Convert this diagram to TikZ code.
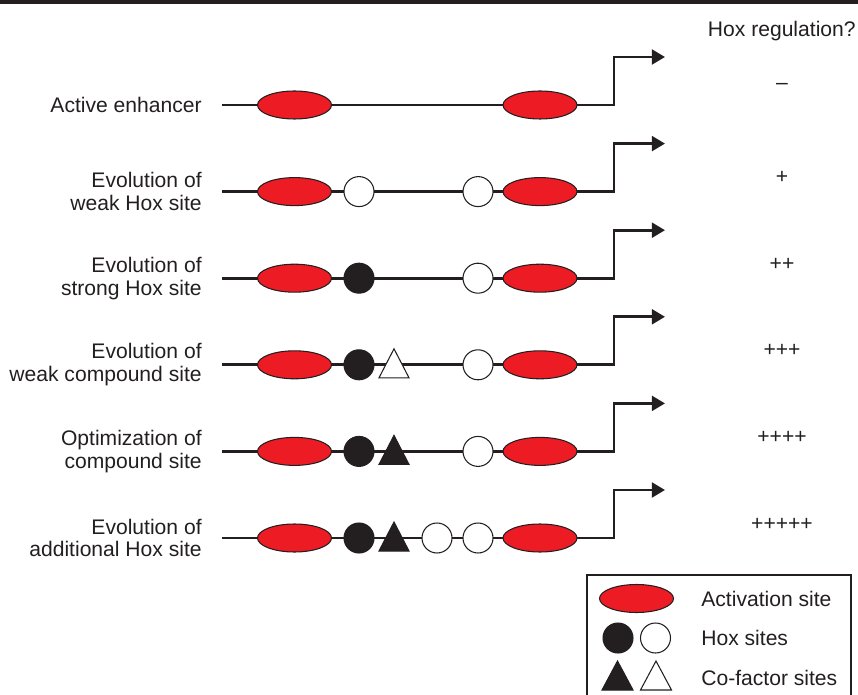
\documentclass[tikz,border=0pt]{standalone}
\usepackage{fontspec}
\setmainfont{Liberation Sans}
\usetikzlibrary{shapes.geometric,arrows.meta}
\definecolor{actred}{RGB}{237,28,36}
\definecolor{ink}{RGB}{35,31,32}

\begin{document}
\begin{tikzpicture}[x=0.02cm, y=-0.02cm, font=\fontsize{12}{13}\selectfont,
  act/.style={ellipse,draw=ink,line width=0.6pt,fill=actred,minimum width=1.48cm,minimum height=0.56cm,inner sep=0pt},
  hox/.style={circle,draw=ink,line width=0.6pt,fill=white,minimum size=0.6cm,inner sep=0pt},
  hoxon/.style={hox,fill=ink},
  cofac/.style={draw=ink,line width=0.6pt,fill=white},
  cofacon/.style={cofac,fill=ink},
  dna/.style={draw=ink,line width=1.5pt},
  stage/.style={align=right,anchor=east,text=ink,inner sep=0pt},
  reg/.style={text=ink,inner sep=0pt}]
  \useasboundingbox (0,0) rectangle (858,695);
  \draw[ink,line width=2.5pt] (0,2) -- (858,2);
  \node[reg,anchor=east] (hdr) at (856,31) {Hox regulation?};

  % enhancer rows
  \foreach \r/\y/\my/\lab/\val in {0/105/86/{Active enhancer}/{--},
      1/191.6/177/{Evolution of\\weak Hox site}/{+},
      2/278.2/264/{Evolution of\\strong Hox site}/{++},
      3/364.8/350/{Evolution of\\weak compound site}/{+++},
      4/451.4/437/{Optimization of\\compound site}/{++++},
      5/538/524/{Evolution of\\additional Hox site}/{+++++}}{
    \node[stage] (lab\r) at (202,\y) {\lab};
    \node[reg] (val\r) at (782,\my) {\val};
    \coordinate (s\r) at (222,\y);
    \coordinate (k\r) at (614,\y);
    \coordinate (t\r) at (665,\y-48);
    \draw[dna,-{Triangle[length=7.5pt,width=8.5pt]}] (s\r) -- (k\r) |- (t\r);
    \node[act] (a\r) at (294.5,\y) {};
    \node[act] (b\r) at (540,\y) {};
  }

  % Hox sites
  \node[hox] (h1) at (359,191.6) {};
  \node[hox] (g1) at (478,191.6) {};
  \node[hoxon] (h2) at (359,278.2) {};
  \node[hox] (g2) at (478,278.2) {};
  \node[hoxon] (h3) at (359,364.8) {};
  \node[hox] (g3) at (478,364.8) {};
  \node[hoxon] (h4) at (359,451.4) {};
  \node[hox] (g4) at (478,451.4) {};
  \node[hoxon] (h5) at (359,538) {};
  \node[hox] (e5) at (437,538) {};
  \node[hox] (g5) at (478,538) {};

  % co-factor sites
  \coordinate (c3) at (394,364.8);
  \coordinate (c4) at (394,451.4);
  \coordinate (c5) at (394,538);
  \draw[cofac] (c3) ++(-15,13) -- ++(15,-29) -- ++(15,29) -- cycle;
  \draw[cofacon] (c4) ++(-15,13) -- ++(15,-29) -- ++(15,29) -- cycle;
  \draw[cofacon] (c5) ++(-15,13) -- ++(15,-29) -- ++(15,29) -- cycle;

  % key
  \draw[ink,line width=0.6pt] (587,696) |- (851,575) -- (851,696);
  \node[act] (ka) at (636.5,598.5) {};
  \node[hoxon] (kh) at (618,638) {};
  \node[hox] (kg) at (655.5,638) {};
  \coordinate (kc) at (617.5,677);
  \coordinate (kd) at (656,677);
  \draw[cofacon] (kc) ++(-15.5,13) -- ++(15.5,-29) -- ++(15.5,29) -- cycle;
  \draw[cofac] (kd) ++(-15.5,13) -- ++(15.5,-29) -- ++(15.5,29) -- cycle;
  \node[reg,anchor=west] (kal) at (701,598.5) {Activation site};
  \node[reg,anchor=west] (khl) at (701,638) {Hox sites};
  \node[reg,anchor=west] (kcl) at (701,678) {Co-factor sites};
\end{tikzpicture}
\end{document}
